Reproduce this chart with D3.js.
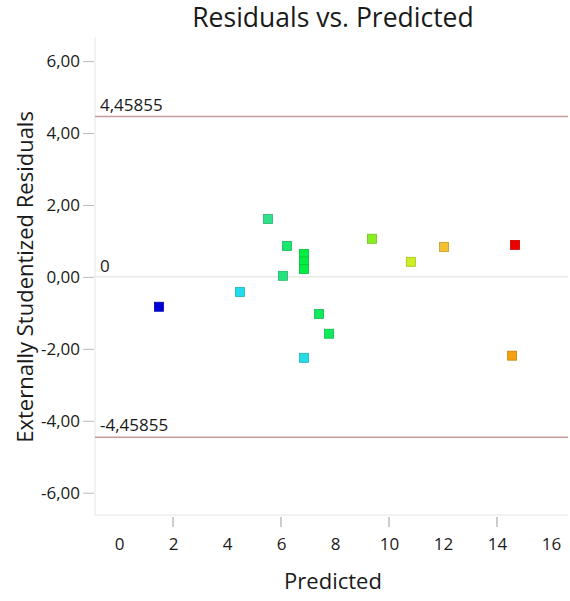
<!DOCTYPE html>
<html>
<head>
<meta charset="utf-8"/>
<script src="https://d3js.org/d3.v7.min.js"></script>
<style>
  body { margin: 0; background: #ffffff; }
  text { font-family: "Open Sans", "Noto Sans", sans-serif; fill: #1a1a1a; }
</style>
</head>
<body>
<script>
// data
var predicted = [1.48, 4.48, 5.52, 6.22, 6.07, 6.85, 6.85, 6.85, 7.41, 7.78, 6.85, 9.37, 10.81, 12.04, 14.67, 14.56];
var residuals = [-0.83, -0.42, 1.61, 0.86, 0.03, 0.64, 0.43, 0.22, -1.03, -1.58, -2.25, 1.06, 0.42, 0.83, 0.89, -2.19];
var actual    = [1.0, 4.4, 5.8, 6.3, 6.0, 7.0, 7.0, 7.0, 6.6, 6.6, 4.5, 9.8, 11.0, 12.5, 15.0, 13.5];
var limits = [4.45855, -4.45855];
var xTicks = [0, 2, 4, 6, 8, 10, 12, 14, 16];
var xTickMarks = [2, 6, 10, 14];
var yTicks = [6, 4, 2, 0, -2, -4, -6];

var W = 570, H = 601;
var pLeft = 95, pRight = 568, pTop = 37, pBottom = 515;
var FONT = "'Open Sans', 'Noto Sans', sans-serif";

var svg = d3.select("body").append("svg")
  .attr("width", W).attr("height", H);

var x = d3.scaleLinear().domain([-0.89, 16.63]).range([pLeft, pRight]);
var y = d3.scaleLinear().domain([-6.62, 6.67]).range([pBottom, pTop]);

// colour by actual value
var color = d3.scaleLinear()
  .domain([1, 4.4, 5.8, 7, 9.8, 11, 12.5, 13.5, 15])
  .range(["#0000d8", "#22dcee", "#2ee08a", "#00ee44", "#88ee22", "#ccee22", "#f4c030", "#f5a010", "#ee0000"]);

// frame
svg.append("line").attr("x1", pLeft).attr("x2", pLeft).attr("y1", pTop).attr("y2", pBottom)
  .attr("stroke", "#e6e6e6");
svg.append("line").attr("x1", pLeft).attr("x2", pRight).attr("y1", pBottom).attr("y2", pBottom)
  .attr("stroke", "#e6e6e6");

// title
svg.append("text").attr("x", 333).attr("y", 27)
  .attr("text-anchor", "middle").attr("font-size", 26.5).attr("fill", "#111")
  .text("Residuals vs. Predicted");

// y axis
var yAxis = d3.axisLeft(y).tickValues(yTicks).tickSize(11).tickPadding(3)
  .tickFormat(function(d){ return d3.format(".2f")(d).replace(".", ",").replace("−", "-"); });
var gy = svg.append("g").attr("transform", "translate(" + (pLeft - 1) + ",0)").call(yAxis);
gy.select(".domain").remove();
gy.selectAll("line").attr("stroke", "#bbb");
gy.selectAll("text").attr("font-size", 17).attr("fill", "#1a1a1a").style("font-family", FONT);

// x axis labels
var xAxis = d3.axisBottom(x).tickValues(xTicks).tickSize(0).tickPadding(23)
  .tickFormat(d3.format("d"));
var gx = svg.append("g").attr("transform", "translate(0," + pBottom + ")").call(xAxis);
gx.select(".domain").remove();
gx.selectAll("text").attr("font-size", 17).attr("fill", "#1a1a1a").style("font-family", FONT);
svg.append("g").selectAll("line").data(xTickMarks).enter().append("line")
  .attr("x1", function(d){ return x(d); }).attr("x2", function(d){ return x(d); })
  .attr("y1", pBottom + 2).attr("y2", pBottom + 12)
  .attr("stroke", "#999");

// axis titles
svg.append("text").attr("x", 333).attr("y", 589)
  .attr("text-anchor", "middle").attr("font-size", 22).text("Predicted");
svg.append("text")
  .attr("transform", "translate(33," + y(0) + ") rotate(-90)")
  .attr("text-anchor", "middle").attr("font-size", 22).text("Externally Studentized Residuals");

// zero line
svg.append("line").attr("x1", pLeft).attr("x2", pRight)
  .attr("y1", y(0)).attr("y2", y(0)).attr("stroke", "#dddddd");
svg.append("text").attr("x", 100).attr("y", y(0) - 5)
  .attr("font-size", 17).text("0");

// limit lines
svg.append("g").selectAll("line").data(limits).enter().append("line")
  .attr("x1", pLeft).attr("x2", pRight)
  .attr("y1", function(d){ return y(d); }).attr("y2", function(d){ return y(d); })
  .attr("stroke", "#c99a9a").attr("stroke-width", 1.5);
svg.append("g").selectAll("text").data(limits).enter().append("text")
  .attr("x", 100).attr("y", function(d){ return y(d) - 6; })
  .attr("font-size", 17)
  .text(function(d){ return String(d).replace(".", ","); });

// points
var pts = predicted.map(function(p, i){ return {p: p, r: residuals[i], a: actual[i]}; });
svg.append("g").selectAll("rect").data(pts).enter().append("rect")
  .attr("x", function(d){ return x(d.p) - 4.5; })
  .attr("y", function(d){ return y(d.r) - 4.5; })
  .attr("width", 9).attr("height", 9)
  .attr("fill", function(d){ return color(d.a); })
  .attr("stroke", function(d){ return d3.color(color(d.a)).darker(0.6); })
  .attr("stroke-width", 0.8);
</script>
</body>
</html>
